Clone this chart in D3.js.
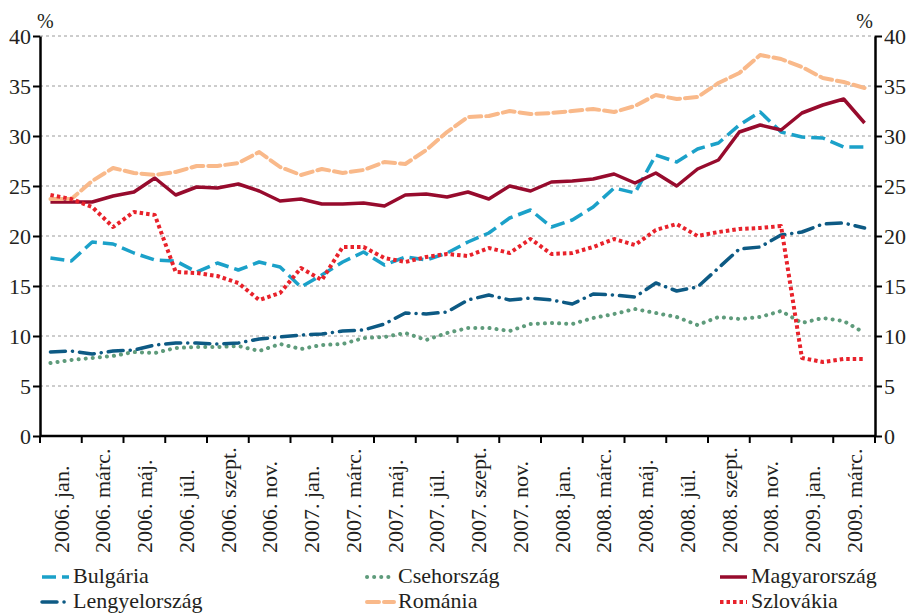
<!DOCTYPE html>
<html>
<head>
<meta charset="utf-8">
<script src="https://cdn.jsdelivr.net/npm/d3@7"></script>
<style>
  body { margin: 0; background: #fff; }
  svg text { font-family: "Liberation Serif", "DejaVu Serif", serif; fill: #231f20; }
</style>
</head>
<body>
<svg id="chart" width="914" height="614" font-family="Liberation Serif, serif"></svg>
<script>
"use strict";

// monthly data, 2006 jan .. 2009 apr (40 months)
const months = d3.range(40);
const tickLabels = [
    "2006. jan.", "2006. márc.", "2006. máj.", "2006. júl.", "2006. szept.", "2006. nov.",
    "2007. jan.", "2007. márc.", "2007. máj.", "2007. júl.", "2007. szept.", "2007. nov.",
    "2008. jan.", "2008. márc.", "2008. máj.", "2008. júl.", "2008. szept.", "2008. nov.",
    "2009. jan.", "2009. márc."
];
const yTicks = [0, 5, 10, 15, 20, 25, 30, 35, 40];

const bulgaria = [17.8, 17.5, 19.4, 19.2, 18.3, 17.6, 17.5, 16.4, 17.3, 16.6, 17.4, 16.9,
    14.9, 16.1, 17.4, 18.4, 17.1, 17.9, 17.6, 18.3, 19.4, 20.3, 21.8, 22.6,
    20.9, 21.6, 22.9, 24.8, 24.3, 28.1, 27.4, 28.7, 29.3, 31.1, 32.4, 30.4,
    29.9, 29.8, 28.9, 28.9];
const csehorszag = [7.3, 7.6, 7.8, 8.0, 8.4, 8.3, 8.8, 8.9, 8.9, 9.0, 8.5, 9.2,
    8.7, 9.1, 9.2, 9.8, 9.9, 10.3, 9.6, 10.3, 10.8, 10.8, 10.5, 11.2,
    11.3, 11.2, 11.8, 12.2, 12.7, 12.3, 11.9, 11.1, 11.9, 11.7, 11.9, 12.5,
    11.3, 11.8, 11.5, 10.3];
const magyarorszag = [23.4, 23.4, 23.4, 24.0, 24.4, 25.8, 24.1, 24.9, 24.8, 25.2, 24.5, 23.5,
    23.7, 23.2, 23.2, 23.3, 23.0, 24.1, 24.2, 23.9, 24.4, 23.7, 25.0, 24.5,
    25.4, 25.5, 25.7, 26.2, 25.3, 26.3, 25.0, 26.7, 27.6, 30.4, 31.1, 30.6,
    32.3, 33.1, 33.7, 31.3];
const lengyelorszag = [8.4, 8.5, 8.2, 8.5, 8.6, 9.1, 9.3, 9.3, 9.2, 9.3, 9.7, 9.9,
    10.1, 10.2, 10.5, 10.6, 11.2, 12.3, 12.2, 12.4, 13.6, 14.1, 13.6, 13.8,
    13.6, 13.2, 14.2, 14.1, 13.9, 15.3, 14.5, 14.9, 16.8, 18.7, 18.9, 20.1,
    20.4, 21.2, 21.3, 20.8];
const romania = [23.7, 23.7, 25.5, 26.8, 26.3, 26.1, 26.4, 27.0, 27.0, 27.3, 28.4, 26.9,
    26.1, 26.7, 26.3, 26.6, 27.4, 27.2, 28.6, 30.4, 31.9, 32.0, 32.5, 32.2,
    32.3, 32.5, 32.7, 32.4, 33.0, 34.1, 33.7, 33.9, 35.3, 36.3, 38.1, 37.7,
    36.9, 35.8, 35.4, 34.8];
const szlovakia = [24.1, 23.7, 22.9, 20.9, 22.4, 22.1, 16.4, 16.3, 16.0, 15.3, 13.6, 14.3,
    16.8, 15.6, 18.9, 18.9, 17.8, 17.4, 17.9, 18.2, 18.0, 18.8, 18.3, 19.7,
    18.2, 18.3, 18.9, 19.7, 19.1, 20.6, 21.2, 20.0, 20.4, 20.7, 20.8, 21.0,
    7.8, 7.4, 7.7, 7.7];

const seriesNames = ["Bulgária", "Csehország", "Magyarország", "Lengyelország", "Románia", "Szlovákia"];
const seriesValues = [bulgaria, csehorszag, magyarorszag, lengyelorszag, romania, szlovakia];

// line styles per series
const styles = {
    "Bulgária":      { color: "#1ba1c9", width: 3.5, dash: "14,6", cap: "butt" },
    "Csehország":    { color: "#5e9b7b", width: 4,   dash: "0.1,7", cap: "round" },
    "Magyarország":  { color: "#970b2d", width: 3.5, dash: null,   cap: "butt" },
    "Lengyelország": { color: "#0d5a84", width: 3.5, dash: "15,7,0.1,7", cap: "round" },
    "Románia":       { color: "#f9b98a", width: 4,   dash: "12,5", cap: "round" },
    "Szlovákia":     { color: "#e8222b", width: 4,   dash: "3.5,3", cap: "butt" }
};

const svg = d3.select("#chart");
const margin = { left: 40, right: 39, top: 36, bottom: 178 };
const width = 914 - margin.left - margin.right;
const height = 614 - margin.top - margin.bottom;
const fontSize = 22;

const x = d3.scaleBand().domain(months).range([0, width]);
const xTick = d3.scaleBand().domain(d3.range(tickLabels.length)).range([0, width]);
const y = d3.scaleLinear().domain([0, 40]).range([height, 0]);

const g = svg.append("g")
    .attr("transform", `translate(${margin.left},${margin.top})`);

// gridlines
g.append("g")
    .selectAll("line")
    .data(yTicks.filter(d => d > 0))
    .enter().append("line")
    .attr("x1", 0).attr("x2", width)
    .attr("y1", d => y(d)).attr("y2", d => y(d))
    .attr("stroke", "#9a9a9a")
    .attr("stroke-width", 1)
    .attr("stroke-dasharray", "3,3");

// lines
const line = d3.line()
    .x((d, i) => x(i) + x.bandwidth() / 2)
    .y(d => y(d));

seriesNames.forEach((name, k) => {
    const s = styles[name];
    g.append("path")
        .datum(seriesValues[k])
        .attr("d", line)
        .attr("fill", "none")
        .attr("stroke", s.color)
        .attr("stroke-width", s.width)
        .attr("stroke-linejoin", "round")
        .attr("stroke-linecap", s.cap)
        .attr("stroke-dasharray", s.dash);
});

// axes
function styleAxis (sel) {
    sel.attr("font-family", null);
    sel.select(".domain").attr("stroke", "#000").attr("stroke-width", 2.5);
    sel.selectAll(".tick line").attr("stroke", "#000").attr("stroke-width", 2);
    sel.selectAll(".tick text")
        .style("font-size", fontSize + "px")
        .attr("fill", "#231f20");
}

const yLeft = g.append("g")
    .call(d3.axisLeft(y).tickValues(yTicks).tickSize(7).tickSizeOuter(0).tickPadding(2));
styleAxis(yLeft);

const yRight = g.append("g")
    .attr("transform", `translate(${width},0)`)
    .call(d3.axisRight(y).tickValues(yTicks).tickSize(7).tickSizeOuter(0).tickPadding(2));
styleAxis(yRight);

const xAxis = g.append("g")
    .attr("transform", `translate(0,${height})`);
xAxis.append("line")
    .attr("x1", 0).attr("x2", width)
    .attr("stroke", "#000").attr("stroke-width", 2.5);
xAxis.selectAll(".xt")
    .data(d3.range(tickLabels.length + 1))
    .enter().append("line")
    .attr("x1", d => d < tickLabels.length ? xTick(d) : width)
    .attr("x2", d => d < tickLabels.length ? xTick(d) : width)
    .attr("y1", 0).attr("y2", 7)
    .attr("stroke", "#000").attr("stroke-width", 2);
xAxis.selectAll(".xl")
    .data(tickLabels)
    .enter().append("text")
    .attr("transform", (d, i) => `translate(${xTick(i) + xTick.bandwidth() / 2},117) rotate(-90)`)
    .attr("dy", "0.35em")
    .attr("text-anchor", "start")
    .style("font-size", fontSize + "px")
    .text(d => d);

// unit labels
svg.append("text")
    .attr("x", 37).attr("y", 28)
    .style("font-size", "20px")
    .text("%");
svg.append("text")
    .attr("x", 873).attr("y", 28)
    .attr("text-anchor", "end")
    .style("font-size", "20px")
    .text("%");

// legend
const legendPos = [
    { x: 42, y: 577 }, { x: 367, y: 577 }, { x: 720, y: 577 },
    { x: 42, y: 602 }, { x: 367, y: 602 }, { x: 720, y: 602 }
];
const legend = svg.append("g");
seriesNames.forEach((name, k) => {
    const s = styles[name];
    const p = legendPos[k];
    legend.append("line")
        .attr("x1", p.x).attr("x2", p.x + 27)
        .attr("y1", p.y).attr("y2", p.y)
        .attr("stroke", s.color)
        .attr("stroke-width", s.width)
        .attr("stroke-linecap", s.cap)
        .attr("stroke-dasharray", s.dash);
    legend.append("text")
        .attr("x", p.x + 31).attr("y", p.y + 6)
        .style("font-size", fontSize + "px")
        .text(name);
});
</script>
</body>
</html>
